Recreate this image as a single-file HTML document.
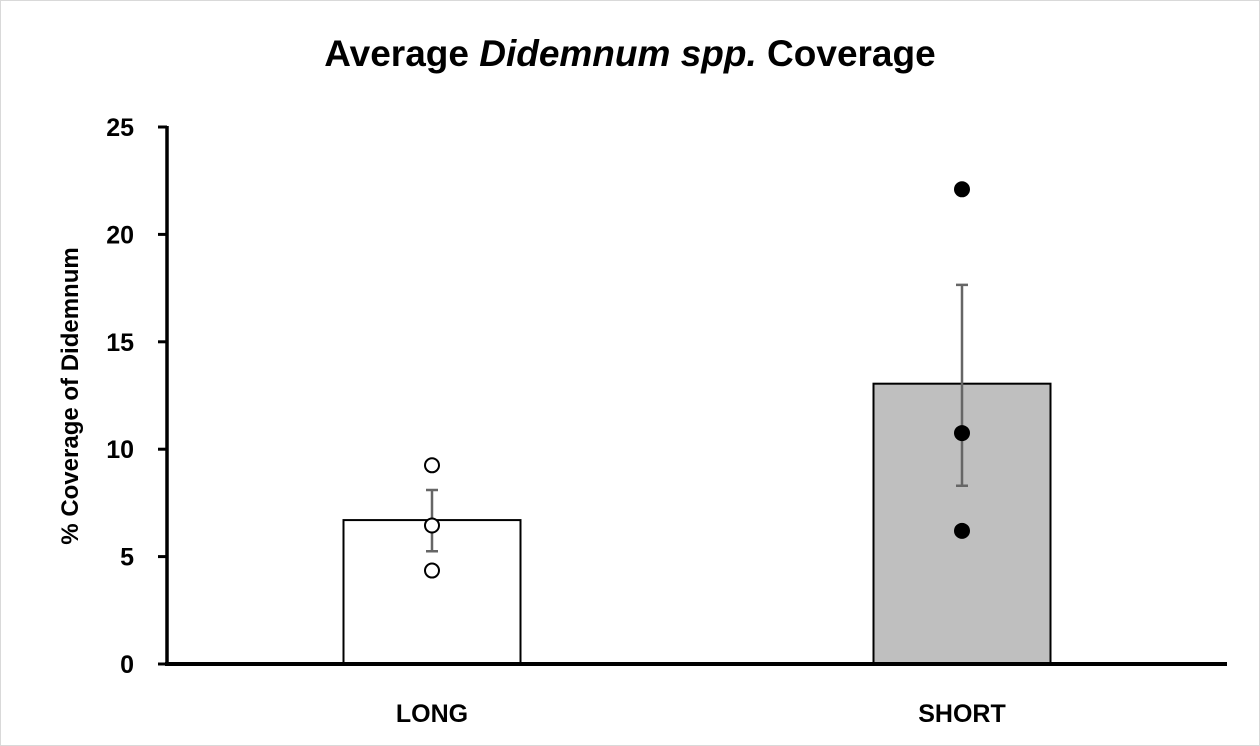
<!DOCTYPE html>
<html><head><meta charset="utf-8"><style>
html,body{margin:0;padding:0;background:#fff;}
svg{display:block;font-family:"Liberation Sans",sans-serif;}
</style></head><body>
<svg id="chart" width="1260" height="746">
<rect x="0.5" y="0.5" width="1259" height="745" fill="#fff" stroke="#d9d9d9"/>
<text x="630" y="66" text-anchor="middle" font-size="37" font-weight="bold" fill="#000">Average <tspan font-style="italic">Didemnum spp.</tspan> Coverage</text>
<text transform="translate(78,396) rotate(-90)" text-anchor="middle" font-size="24" font-weight="bold">% Coverage of Didemnum</text>
<g id="plot"></g>
</svg>
<script>
const categories = ["LONG", "SHORT"];
const means = [6.7, 13.05];
const errHi = [8.1, 17.65];
const errLo = [5.25, 8.3];
const pointsLong = [9.25, 6.45, 4.35];
const pointsShort = [22.1, 10.75, 6.2];
const yTicks = [0, 5, 10, 15, 20, 25];

const NS = "http://www.w3.org/2000/svg";
const g = document.getElementById("plot");
const x0 = 167, x1 = 1227, yBase = 664, yTop = 127, yMax = 25;
const y = v => yBase - v / yMax * (yBase - yTop);
const bandW = (x1 - x0) / categories.length;
const cx = i => x0 + bandW * (i + 0.5);
function mk(tag, attrs) { const e = document.createElementNS(NS, tag); for (const k in attrs) e.setAttribute(k, attrs[k]); g.appendChild(e); return e; }

yTicks.forEach(t => {
  const l = mk("line", {x1: 158, x2: x0, y1: y(t), y2: y(t), stroke: "#000", "stroke-width": 3});
  
  
  const tx = mk("text", {x: 134, y: y(t) + 9, "text-anchor": "end", "font-size": 25, "font-weight": "bold"});
  tx.textContent = t;
  
  
});

const fills = ["#fff", "#bfbfbf"];
const pts = [pointsLong, pointsShort];
categories.forEach((c, i) => {
  const bw = 177;
  const b = mk("rect", {x: cx(i) - bw / 2, y: y(means[i]), width: bw, height: yBase - y(means[i]), fill: fills[i], stroke: "#000", "stroke-width": 2});
  
  
  const e = mk("path", {d: `M${cx(i)} ${y(errHi[i])}V${y(errLo[i])}M${cx(i)-6} ${y(errHi[i])}H${cx(i)+6}M${cx(i)-6} ${y(errLo[i])}H${cx(i)+6}`, stroke: "#666", "stroke-width": 2.5, fill: "none"});
  
  
  pts[i].forEach(v => {
    const p = mk("circle", {cx: cx(i), cy: y(v), r: 7, fill: i === 0 ? "#fff" : "#000", stroke: "#000", "stroke-width": 2});
    
    
  });
  const lt = mk("text", {x: cx(i), y: 722, "text-anchor": "middle", "font-size": 25, "font-weight": "bold"});
  lt.textContent = c;
  
  
});

const ya = mk("line", {x1: x0, x2: x0, y1: yTop - 1, y2: yBase + 2, stroke: "#000", "stroke-width": 3.5});


const xa = mk("line", {x1: x0 - 2, x2: x1, y1: yBase, y2: yBase, stroke: "#000", "stroke-width": 4});


</script>
</body></html>
